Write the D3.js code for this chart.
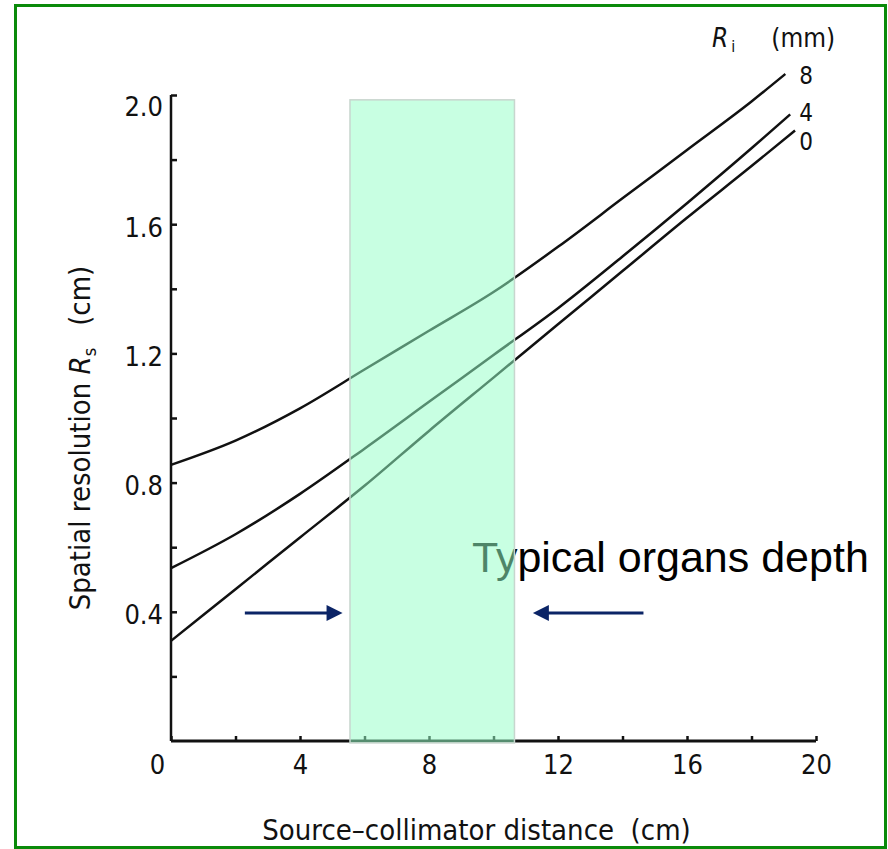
<!DOCTYPE html>
<meta charset="utf-8">
<script src="https://d3js.org/d3.v7.js"></script>
<style>
  body { margin: 0; background: #fff; }
  .fig text { font-family: "Liberation Sans Narrow", "DejaVu Sans Condensed", "Roboto Condensed", sans-serif; fill: #111; }
</style>
<div id="my_dataviz"></div>
<script>

// source-collimator distance (cm) where the curves were read
const dist8 = [0, 2, 4, 6, 8, 10, 12, 14, 16, 18, 19.05];
const dist4 = [0, 2, 4, 6, 8, 10, 12, 14, 16, 18, 19.2];
const dist0 = [0, 2, 4, 6, 8, 10, 12, 14, 16, 18, 19.35];

// spatial resolution Rs (cm) for intrinsic resolution Ri = 8, 4, 0 mm
const rs8 = [0.855, 0.93, 1.03, 1.15, 1.27, 1.39, 1.53, 1.68, 1.83, 1.98, 2.065];
const rs4 = [0.535, 0.64, 0.765, 0.905, 1.05, 1.195, 1.34, 1.50, 1.665, 1.835, 1.94];
const rs0 = [0.31, 0.47, 0.63, 0.79, 0.96, 1.125, 1.29, 1.455, 1.62, 1.78, 1.89];

const curveNames = ["8", "4", "0"];

// typical organ depth band (cm)
const organDepth = [5.55, 10.65];

const xTicks = d3.range(0, 20.01, 2);
const yTicks = d3.range(0, 2.01, 0.2);

const W = 888, H = 849;

const svg = d3.select("#my_dataviz")
  .append("svg")
    .attr("width", W)
    .attr("height", H)
    .attr("class", "fig");

// green slide frame
svg.append("rect")
  .attr("x", 15.5).attr("y", 5.5)
  .attr("width", 870).attr("height", 842)
  .attr("fill", "none")
  .attr("stroke", "#0a8a0a")
  .attr("stroke-width", 3);

const x = d3.scaleLinear().domain([0, 20]).range([171, 816]);
const y = d3.scaleLinear().domain([0, 2]).range([741, 95]);

// X axis, ticks pointing up
const xAxis = svg.append("g")
  .attr("transform", `translate(0,${y(0)})`)
  .call(d3.axisBottom(x)
    .tickValues(xTicks)
    .tickSize(-5)
    .tickPadding(14)
    .tickFormat(d => d % 4 === 0 ? d : ""));
xAxis.select(".domain").attr("stroke-width", 3).attr("d", `M${x(0)},0H${x(20)}`);
xAxis.selectAll(".tick line").attr("stroke-width", 2.5);
xAxis.selectAll(".tick text")
  .attr("font-size", 27)
  .attr("dx", d => d === 0 ? -14 : 0);

// Y axis, ticks pointing right
const yAxis = svg.append("g")
  .attr("transform", `translate(${x(0)},0)`)
  .call(d3.axisLeft(y)
    .tickValues(yTicks.filter(d => d > 0.01))
    .tickSize(-6)
    .tickPadding(8)
    .tickFormat(d => Math.round(d * 10) % 4 === 0 ? d.toFixed(1) : ""));
yAxis.select(".domain").attr("stroke-width", 2.5).attr("d", `M0,${y(0)}V${y(2)}`);
yAxis.selectAll(".tick line").attr("stroke-width", 2.5);
yAxis.selectAll(".tick text")
  .attr("font-size", 27)
  .attr("dy", d => d > 1.9 ? "0.75em" : "0.45em");

svg.selectAll(".domain, .tick line").attr("stroke", "#111");

// curves
const series = [
  {name: curveNames[0], xs: dist8, ys: rs8},
  {name: curveNames[1], xs: dist4, ys: rs4},
  {name: curveNames[2], xs: dist0, ys: rs0}
];

const line = d3.line()
  .x(d => x(d[0]))
  .y(d => y(d[1]))
  .curve(d3.curveMonotoneX);

svg.selectAll(".curve")
  .data(series)
  .join("path")
    .attr("class", "curve")
    .attr("fill", "none")
    .attr("stroke", "#111")
    .attr("stroke-width", 2.5)
    .attr("d", d => line(d.xs.map((v, i) => [v, d.ys[i]])));

// end labels
const labelOffsets = [10, 7, 19];
svg.selectAll(".endlabel")
  .data(series)
  .join("text")
    .attr("class", "endlabel")
    .attr("x", 806)
    .attr("y", (d, i) => y(d.ys[d.ys.length - 1]) + labelOffsets[i])
    .attr("text-anchor", "middle")
    .attr("font-size", 24)
    .text(d => d.name);

// legend title Ri (mm)
const title = svg.append("text")
  .attr("x", 712).attr("y", 47)
  .attr("font-size", 26);
title.append("tspan").attr("font-style", "italic").text("R");
title.append("tspan").attr("font-size", 16).attr("dy", 5).attr("dx", 3).text("i");
title.append("tspan").attr("dy", -5).attr("dx", 36).text("(mm)");

// axis titles
svg.append("text")
  .attr("x", (258 + 695) / 2).attr("y", 840)
  .attr("text-anchor", "middle")
  .attr("font-size", 29)
  .text("Source\u2013collimator distance\u00a0\u00a0(cm)");

const yt = svg.append("text")
  .attr("transform", "translate(90,438) rotate(-90)")
  .attr("text-anchor", "middle")
  .attr("font-size", 29);
yt.append("tspan").text("Spatial resolution ");
yt.append("tspan").attr("font-style", "italic").text("R");
yt.append("tspan").attr("font-size", 18).attr("dy", 6).text("s");
yt.append("tspan").attr("dy", -6).attr("dx", 22).text("(cm)");

// annotation text
svg.append("text")
  .attr("x", 472).attr("y", 572)
  .style("font-family", "'Liberation Sans', Arial, sans-serif")
  .style("fill", "#000")
  .attr("font-size", 43)
  .text("Typical organs depth");

// arrows
const arrowY = 0.396;
const arrows = [[2.29, 5.32], [14.65, 11.22]];
const navy = "#0b2466";
arrows.forEach(a => {
  const x0 = x(a[0]), x1 = x(a[1]), yy = y(arrowY);
  const dir = Math.sign(x1 - x0);
  svg.append("line")
    .attr("x1", x0).attr("x2", x1 - dir * 14)
    .attr("y1", yy).attr("y2", yy)
    .attr("stroke", navy).attr("stroke-width", 3);
  svg.append("path")
    .attr("d", `M${x1},${yy}L${x1 - dir * 16},${yy - 8}L${x1 - dir * 16},${yy + 8}Z`)
    .attr("fill", navy);
});

// organ depth band on top
svg.append("rect")
  .attr("x", x(organDepth[0]))
  .attr("y", y(1.985))
  .attr("width", x(organDepth[1]) - x(organDepth[0]))
  .attr("height", y(-0.006) - y(1.985))
  .attr("fill", "rgb(150,255,200)")
  .attr("fill-opacity", 0.52)
  .attr("stroke", "#c8d6ce")
  .attr("stroke-width", 1.5);

</script>
